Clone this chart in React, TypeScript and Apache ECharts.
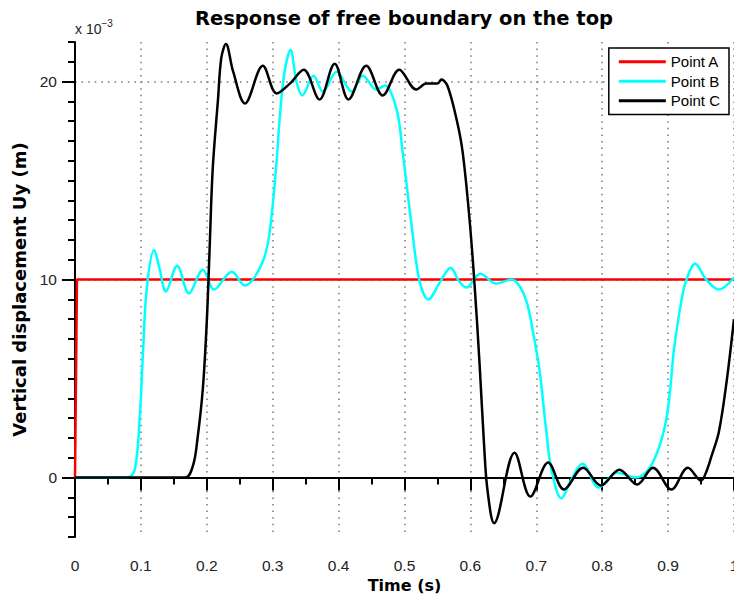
import React, { useEffect, useRef } from "react";
import * as echarts from "echarts";

const seriesNames = ["Point A", "Point B", "Point C"];
const seriesColors = ["#ff0000", "#00ffff", "#000000"];

// Values in units of 1e-3 m
const timeA = [0, 0.003, 1];
const valueA = [0, 10, 10];

const timeB = [
  0, 0.08, 0.091, 0.098, 0.103, 0.109, 0.12, 0.128, 0.138, 0.155, 0.173, 0.194, 0.211, 0.238, 0.258, 0.27,
  0.286, 0.295, 0.305, 0.311, 0.318, 0.327, 0.336, 0.345, 0.362, 0.376, 0.397, 0.42, 0.437, 0.457, 0.47,
  0.488, 0.497, 0.512, 0.523, 0.536, 0.556, 0.57, 0.583, 0.594, 0.615, 0.639, 0.662, 0.674, 0.686, 0.697,
  0.705, 0.715, 0.723, 0.738, 0.753, 0.77, 0.795, 0.822, 0.851, 0.871, 0.886, 0.897, 0.903, 0.909, 0.92,
  0.927, 0.941, 0.958, 0.977, 1.0,
];
const valueB = [
  0, 0, 0.45, 2.9, 6.2, 9.6, 11.5, 10.6, 9.4, 10.7, 9.3, 10.5, 9.5, 10.4, 9.7, 10.0,
  11.0, 12.3, 15.6, 18.3, 20.5, 21.6, 20.0, 19.3, 20.3, 19.5, 20.5, 19.5, 20.3, 19.6, 19.8,
  18.6, 16.5, 12.4, 9.9, 9.0, 10.0, 10.6, 9.9, 9.6, 10.3, 9.8, 10.0, 9.7, 8.8, 7.0,
  5.4, 2.4, 0.4, -1.05, -0.1, 0.7, -0.5, 0.25, 0.0, 0.45, 1.5, 2.9, 4.4, 6.5, 8.9,
  9.9, 10.8, 10.0, 9.5, 10.1,
];

const timeC = [
  0, 0.167, 0.179, 0.186, 0.194, 0.2, 0.204, 0.209, 0.217, 0.222, 0.229, 0.24, 0.258, 0.285, 0.306, 0.326,
  0.347, 0.371, 0.394, 0.415, 0.442, 0.467, 0.492, 0.518, 0.533, 0.55, 0.556, 0.565, 0.579, 0.588, 0.598,
  0.606, 0.614, 0.621, 0.626, 0.636, 0.667, 0.691, 0.718, 0.742, 0.771, 0.798, 0.826, 0.853, 0.877, 0.905,
  0.93, 0.95, 0.958, 0.966, 0.977, 0.989, 1.0,
];
const valueC = [
  0, 0, 0.6, 2.0, 4.5, 7.9, 11.3, 15.6, 19.1, 21.2, 21.9, 20.5, 18.9, 20.8, 19.4, 19.9,
  20.6, 19.1, 20.9, 19.1, 20.8, 19.3, 20.6, 19.6, 19.9, 19.9, 20.1, 19.8, 18.1, 16.5, 13.3,
  9.9, 5.7, 1.5, -0.65, -2.3, 1.26, -0.96, 0.76, -0.6, 0.5, -0.4, 0.4, -0.35, 0.5, -0.6,
  0.5, -0.15, 0.3, 1.1, 2.3, 4.9, 8.0,
];

const yMajorTicks = [0, 10, 20];

const pairs = (t: number[], v: number[]) => t.map((x, i) => [x, v[i]]);

const FONT = "Liberation Sans";
const BOLD_FONT = "DejaVu Sans";
const DOTTED = { type: [1.5, 5.1], color: "#777", width: 1.5 };

export default function App() {
  const ref = useRef<HTMLDivElement>(null);
  useEffect(() => {
    if (!ref.current) return;
    const chart = echarts.init(ref.current, undefined, { renderer: "svg" });
    const data = [pairs(timeA, valueA), pairs(timeB, valueB), pairs(timeC, valueC)];
    chart.setOption({
      animation: false,
      textStyle: { fontFamily: FONT },
      graphic: [
        {
          type: "text",
          x: 404,
          y: 8,
          style: {
            text: "Response of free boundary on the top",
            font: `bold 19.5px "${BOLD_FONT}"`,
            fill: "#000",
            align: "center",
            textAlign: "center",
          },
        },
      ],
      grid: { left: 75, right: 0, top: 42, bottom: 59, outerBoundsMode: "none", containLabel: false },
      legend: {
        orient: "vertical",
        right: 5,
        top: 48,
        icon: "rect",
        itemWidth: 47,
        itemHeight: 3,
        itemGap: 4,
        padding: [6, 9, 6, 10],
        borderColor: "#000",
        borderWidth: 1.5,
        borderRadius: 0,
        backgroundColor: "#fff",
        textStyle: { fontSize: 15, color: "#000", fontFamily: FONT, lineHeight: 15.5 },
        data: seriesNames,
      },
      xAxis: {
        type: "value",
        min: 0,
        max: 1,
        interval: 0.1,
        axisLine: { lineStyle: { color: "#000", width: 2 } },
        axisTick: { length: 13, lineStyle: { color: "#000", width: 2 } },
        minorTick: { show: true, splitNumber: 2, length: 7, lineStyle: { color: "#000", width: 2 } },
        axisLabel: {
          fontSize: 15.5,
          color: "#222",
          margin: 20,
          formatter: (v: number) => String(Math.round(v * 10) / 10),
        },
        splitLine: { show: true, lineStyle: DOTTED },
        name: "Time (s)",
        nameLocation: "middle",
        nameGap: 37,
        nameTextStyle: { fontWeight: "bold", fontSize: 16, color: "#000", fontFamily: BOLD_FONT },
      },
      yAxis: [
        {
          type: "value",
          min: -3,
          max: 22,
          position: "left",
          axisLine: { show: true, lineStyle: { color: "#000", width: 2 } },
          axisTick: { show: true, customValues: yMajorTicks, length: 13, lineStyle: { color: "#000", width: 2 } },
          axisLabel: { customValues: yMajorTicks, fontSize: 15.5, color: "#222", margin: 18 },
          splitLine: { show: true, lineStyle: DOTTED },
          name: "Vertical displacement Uy (m)",
          nameLocation: "middle",
          nameGap: 44,
          nameTextStyle: { fontWeight: "bold", fontSize: 18, color: "#000", fontFamily: BOLD_FONT },
        },
        {
          type: "value",
          min: -3,
          max: 22,
          interval: 1,
          position: "left",
          axisLine: { show: false },
          axisTick: { show: true, length: 7, lineStyle: { color: "#000", width: 2 } },
          axisLabel: { show: false },
          splitLine: { show: false },
          name: "{a|x 10}{b|−3}",
          nameLocation: "end",
          nameGap: 6,
          nameTextStyle: {
            align: "left",
            rich: {
              a: { fontSize: 14, color: "#222", fontFamily: FONT, verticalAlign: "bottom" },
              b: { fontSize: 10, color: "#222", fontFamily: FONT, verticalAlign: "top", padding: [0, 0, 8, 0] },
            },
          },
        },
      ],
      series: seriesNames.map((name, i) => ({
        name,
        type: "line",
        yAxisIndex: 0,
        data: data[i],
        symbol: "none",
        showSymbol: false,
        smooth: i === 0 ? false : 0.35,
        lineStyle: { color: seriesColors[i], width: 2.5 },
        itemStyle: { color: seriesColors[i] },
        z: 2 + i,
      })),
    });
    return () => chart.dispose();
  }, []);
  return <div ref={ref} style={{ width: 734, height: 596, position: "absolute", left: 0, top: 0 }} />;
}
